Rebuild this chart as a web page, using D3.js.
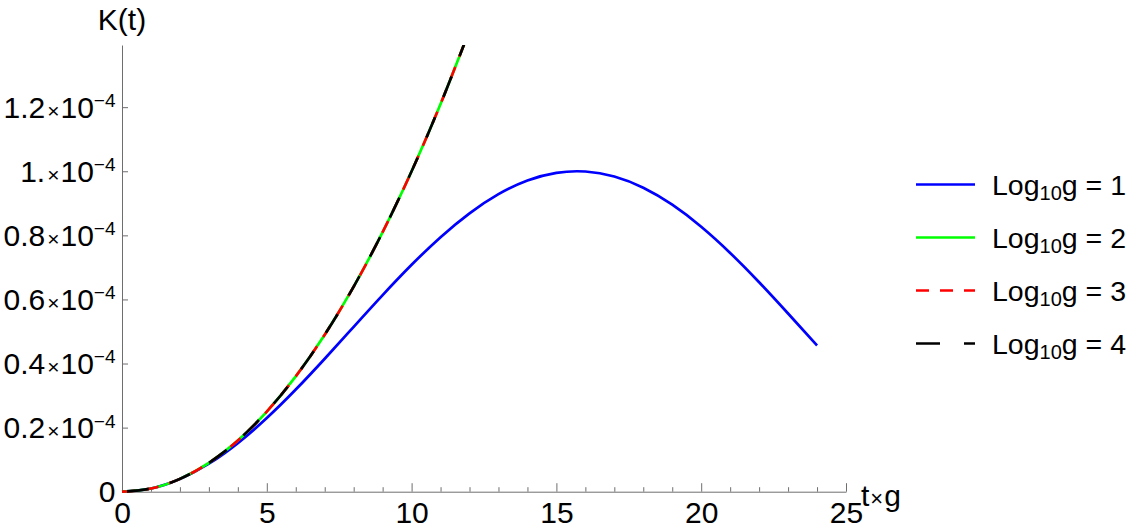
<!DOCTYPE html>
<html>
<head>
<meta charset="utf-8">
<script src="https://cdn.jsdelivr.net/npm/d3@7"></script>
<style>
  html, body { margin: 0; padding: 0; background: #fff; }
  svg { display: block; font-family: "Liberation Sans", Arial, sans-serif; }
</style>
</head>
<body>
<svg id="chart" width="1141" height="532"></svg>
<script>
// ---- data ----
const seriesNames = ["1", "2", "3", "4"];
const seriesColors = ["#0000ff", "#00ff00", "#ff0000", "#000000"];

// t*g values
const tLog1 = [0,1,2,3,4,5,6,7,8,9,10,11,12,13,14,15,16,17,18,19,20,21,22,23,24];
const tLogHigh = [0,1,2,3,4,5,6,7,8,9,10,11,12];

// K(t) in units of 1e-4
const kLog1 = [0, 0.0100, 0.0395, 0.0873, 0.1517, 0.2299, 0.3188, 0.4150, 0.5146, 0.6136,
               0.7081, 0.7943, 0.8687, 0.9284, 0.9711, 0.9950, 0.9992, 0.9834, 0.9484, 0.8955,
               0.8268, 0.7451, 0.6537, 0.5561, 0.4563];
const kLog2 = [0, 0.010, 0.040, 0.090, 0.160, 0.250, 0.360, 0.490, 0.640, 0.810, 1.000, 1.210, 1.440];
const kLog3 = [0, 0.010, 0.040, 0.090, 0.160, 0.250, 0.360, 0.490, 0.640, 0.810, 1.000, 1.210, 1.440];
const kLog4 = [0, 0.010, 0.040, 0.090, 0.160, 0.250, 0.360, 0.490, 0.640, 0.810, 1.000, 1.210, 1.440];

const xTickValues = [0, 5, 10, 15, 20, 25];
const xMinorTicks = [1,2,3,4,6,7,8,9,11,12,13,14,16,17,18,19,21,22,23,24];
const yTickValues = [0, 0.2, 0.4, 0.6, 0.8, 1.0, 1.2];
const yTickMantissa = ["0", "0.2", "0.4", "0.6", "0.8", "1.", "1.2"];

// ---- layout ----
const svg = d3.select("#chart");
const X0 = 122, X1 = 846, Y0 = 491.7, Y1 = 45;
const x = d3.scaleLinear().domain([0, 25]).range([X0, X1]);
const y = d3.scaleLinear().domain([0, 1.394]).range([Y0, Y1]);
const axisColor = "#6e6e6e";

// x axis minor ticks
const gxMinor = svg.append("g").attr("transform", `translate(0,${Y0})`)
  .call(d3.axisBottom(x).tickValues(xMinorTicks).tickSize(-4.5).tickSizeOuter(0).tickFormat(""));
gxMinor.select(".domain").remove();
gxMinor.selectAll("line").attr("stroke", axisColor);

// x axis major
const gx = svg.append("g").attr("transform", `translate(0,${Y0})`)
  .call(d3.axisBottom(x).tickValues(xTickValues).tickSize(-8.5).tickSizeOuter(0).tickPadding(10.5));
gx.select(".domain").attr("stroke", axisColor);
gx.selectAll("line").attr("stroke", axisColor);
gx.selectAll("text").attr("font-size", 30).attr("fill", "#000")
  .attr("font-family", "Liberation Sans, Arial, sans-serif");

// y axis
const gy = svg.append("g").attr("transform", `translate(${X0},0)`)
  .call(d3.axisLeft(y).tickValues(yTickValues).tickSize(-6).tickSizeOuter(0).tickPadding(6.5)
        .tickFormat(""));
gy.select(".domain").attr("stroke", axisColor);
gy.selectAll("line").attr("stroke", axisColor);
gy.selectAll(".tick text").each(function(d, i) {
  const t = d3.select(this)
    .attr("font-size", 30).attr("fill", "#000")
    .attr("font-family", "Liberation Sans, Arial, sans-serif")
    .attr("dy", "0.33em");
  const m = yTickMantissa[i];
  t.append("tspan").text(m);
  if (m !== "0") {
    t.append("tspan").attr("font-size", 21).attr("dx", 2).text("×");
    t.append("tspan").attr("dx", 1).text("10");
    t.append("tspan").attr("font-size", 19).attr("dy", -10.5).text("−4");
  }
});

// axis labels
svg.append("text").attr("x", 122).attr("y", 30).attr("text-anchor", "middle")
  .attr("font-size", 30).text("K(t)");
const xl = svg.append("text").attr("x", 861).attr("y", 506).attr("text-anchor", "start")
  .attr("font-size", 30);
xl.append("tspan").text("t");
xl.append("tspan").attr("font-size", 22).attr("dx", 1).text("×");
xl.append("tspan").attr("dx", 1).text("g");

// curves
svg.append("defs").append("clipPath").attr("id", "plotclip")
  .append("rect").attr("x", X0 - 5).attr("y", Y1).attr("width", X1 - X0 + 20).attr("height", Y0 - Y1 + 10);

const line = d3.line().x(d => x(d[0])).y(d => y(d[1])).curve(d3.curveNatural);
const series = [
  { t: tLog1, k: kLog1, color: seriesColors[0], dash: null, off: 0 },
  { t: tLogHigh, k: kLog2, color: seriesColors[1], dash: null, off: 0 },
  { t: tLogHigh, k: kLog3, color: seriesColors[2], dash: "13,11", off: 0 },
  { t: tLogHigh, k: kLog4, color: seriesColors[3], dash: "22,22", off: -5 }
];
const gCurves = svg.append("g").attr("clip-path", "url(#plotclip)");
series.forEach(s => {
  gCurves.append("path")
    .datum(s.t.map((tv, i) => [tv, s.k[i]]))
    .attr("d", line)
    .attr("fill", "none")
    .attr("stroke", s.color)
    .attr("stroke-width", 2.7)
    .attr("stroke-dasharray", s.dash)
    .attr("stroke-dashoffset", s.off);
});

// legend
const legendY0 = 184.5, legendDY = 53;
const legendDash = [null, null, "13,11", "24,24"];
seriesNames.forEach((n, i) => {
  const yy = legendY0 + i * legendDY;
  svg.append("line").attr("x1", 916).attr("x2", 975).attr("y1", yy).attr("y2", yy)
    .attr("stroke", seriesColors[i]).attr("stroke-width", 2.7)
    .attr("stroke-dasharray", legendDash[i]);
  const t = svg.append("text").attr("x", 992).attr("y", yy + 10.5).attr("font-size", 28.5);
  t.append("tspan").text("Log");
  t.append("tspan").attr("font-size", 20).attr("dy", 5).text("10");
  t.append("tspan").attr("dy", -5).text("g = " + n);
});
</script>
</body>
</html>
